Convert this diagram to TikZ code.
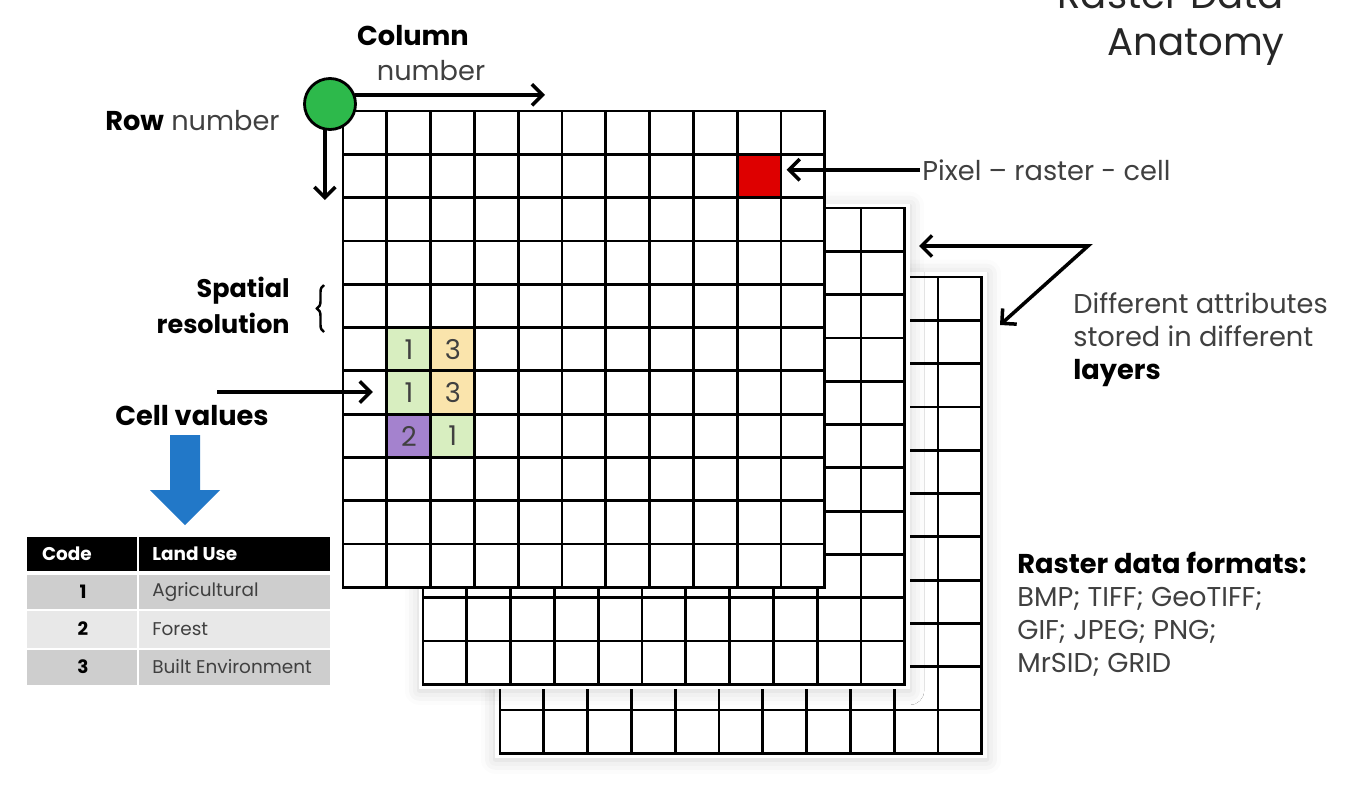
\documentclass[tikz,border=0pt]{standalone}
\usepackage{fontspec}
\setmainfont{Poppins}
\usetikzlibrary{calc, positioning, arrows.meta, shadows.blur, decorations.pathreplacing}
\definecolor{TextGrey}{RGB}{64,64,64}
\definecolor{TitleGrey}{RGB}{38,38,38}
\definecolor{PinGreen}{RGB}{45,185,75}
\definecolor{PixelRed}{RGB}{222,0,0}
\definecolor{AgriGreen}{RGB}{216,238,192}
\definecolor{BuiltSand}{RGB}{250,228,172}
\definecolor{ForestPurple}{RGB}{164,130,206}
\definecolor{ArrowBlue}{RGB}{34,120,200}
\definecolor{rowgrey}{RGB}{206,206,206}
\definecolor{lightgrey}{RGB}{232,232,232}

% 11 x 11 raster, top-left corner given in px
\newcommand{\rastergrid}[2]{%
  \foreach \k in {0,...,11} {
    \draw[gridline] ({#1+\k*43.8},#2) -- ({#1+\k*43.8},{#2+11*43.3});
    \draw[gridline] (#1,{#2+\k*43.3}) -- ({#1+11*43.8},{#2+\k*43.3});
  }%
}

\begin{document}
\begin{tikzpicture}[
  x=0.02cm, y=-0.02cm,
  font=\fontsize{15.5}{18.7}\selectfont,
  gridline/.style={line width=1.6pt, line cap=rect},
  arr/.style={line width=2pt, -{Straight Barb[length=6pt,width=12pt]}},
  txt/.style={text=TextGrey, inner sep=0pt},
  cellbox/.style={minimum width=0.876cm, minimum height=0.866cm, inner sep=0pt,
    anchor=north west, text=TextGrey},
  layerbox/.style={fill=white, blur shadow={shadow xshift=0pt, shadow yshift=-1pt,
    shadow blur radius=8pt, shadow opacity=18}},
  tabtxt/.style={inner sep=0pt, font=\fontsize{10.5}{12}\selectfont},
]
\clip (0,0) rectangle (1346,785);

% Title (top line cut by the frame)
\node[anchor=base east, inner sep=0pt, text=TitleGrey, font=\fontsize{22}{27}\selectfont] (title1) at (1284,8) {Raster Data};
\node[anchor=base east, inner sep=0pt, text=TitleGrey, font=\fontsize{22}{27}\selectfont] (title2) at (1285,55) {Anatomy};

% Back layer
\fill[layerbox] (495,272) rectangle (987,758);
\rastergrid{500}{277}

% Middle layer
\fill[layerbox] (419,204) rectangle (910,689);
\rastergrid{423}{208}

% Front layer
\fill[white] (343,111) rectangle (825,587);
\node[cellbox, fill=PixelRed] (pixel) at ({343+9*43.8},{111+1*43.3}) {};
\node[cellbox, fill=AgriGreen] (c51) at ({343+1*43.8},{111+5*43.3}) {1};
\node[cellbox, fill=BuiltSand] (c52) at ({343+2*43.8},{111+5*43.3}) {3};
\node[cellbox, fill=AgriGreen] (c61) at ({343+1*43.8},{111+6*43.3}) {1};
\node[cellbox, fill=BuiltSand] (c62) at ({343+2*43.8},{111+6*43.3}) {3};
\node[cellbox, fill=ForestPurple] (c71) at ({343+1*43.8},{111+7*43.3}) {2};
\node[cellbox, fill=AgriGreen] (c72) at ({343+2*43.8},{111+7*43.3}) {1};
\rastergrid{343}{111}

% Row / column origin
\node[circle, draw, line width=1.6pt, fill=PinGreen, minimum size=1.02cm, inner sep=0pt] (origin) at (330,104) {};
\coordinate (colend) at (545,95);
\coordinate (rowend) at (325,200);
\draw[arr] (origin.20) -- (origin.20 -| colend);
\draw[arr] (origin.259) -- (origin.259 |- rowend);
\node[anchor=base, inner sep=0pt] (coltitle) at (413,45) {\textbf{Column}};
\node[txt, anchor=base] (colnum) at (431,80) {number};
\node[anchor=base east, inner sep=0pt] (rowlabel) at (280,130) {\textbf{Row} \textcolor{TextGrey}{number}};

% Pixel
\node[txt, anchor=base west] (pixlabel) at (922,180) {Pixel -- raster - cell};
\coordinate (pixtip) at ($(pixel.east)+(5,0)$);
\draw[arr] ($(pixlabel.west)+(-2,0)$) -- (pixlabel.west -| pixtip);

% Layers
\coordinate (layerbend) at (1088,246);
\coordinate (midtip) at (919,246);
\coordinate (backtip) at (1000,325);
\draw[arr, {Straight Barb[length=6pt,width=12pt]}-{Straight Barb[length=6pt,width=12pt]}] (midtip) -- (layerbend) -- (backtip);
\node[txt, anchor=base west, align=left] (layerlabel) at (1073,379)
  {Different attributes\\stored in different\\\textcolor{black}{\textbf{layers}}};

% Spatial resolution
\node[anchor=base east, align=right, inner sep=0pt, font=\fontsize{14.5}{20.4}\selectfont\bfseries] (spatial) at (290,333) {Spatial\\resolution};
\draw[line width=1.4pt, decorate, decoration={brace, amplitude=4pt}] (324,332) -- (324,285);

% Cell values
\node[anchor=base, inner sep=0pt] (cellvalues) at (192,425) {\textbf{Cell values}};
\coordinate (cvstart) at (217,392);
\draw[arr] (cvstart) -- (cvstart -| {$(c61.west)+(-14,0)$});
\fill[ArrowBlue] (170,435) -- (200,435) -- (200,490) -- (220,490) -- (185,525)
  -- (150,490) -- (170,490) -- cycle;

% Legend table
\fill[black] (27,537) rectangle (330,571);
\fill[rowgrey] (27,575) rectangle (330,609);
\fill[lightgrey] (27,611) rectangle (330,648);
\fill[rowgrey] (27,650) rectangle (330,685);
\draw[white, line width=1.2pt] (138,537) -- (138,685);
\node[tabtxt, text=white, font=\fontsize{10.5}{12}\selectfont\bfseries] (thcode) at (67,554) {Code};
\node[tabtxt, text=white, font=\fontsize{10.5}{12}\selectfont\bfseries, anchor=west] (thuse) at (152,554) {Land Use};
\node[tabtxt, font=\fontsize{10.5}{12}\selectfont\bfseries] (code1) at (83,592) {1};
\node[tabtxt, text=TextGrey, anchor=west] (use1) at (152,592) {Agricultural};
\node[tabtxt, font=\fontsize{10.5}{12}\selectfont\bfseries] (code2) at (83,629) {2};
\node[tabtxt, text=TextGrey, anchor=west] (use2) at (152,629) {Forest};
\node[tabtxt, font=\fontsize{10.5}{12}\selectfont\bfseries] (code3) at (83,667) {3};
\node[tabtxt, text=TextGrey, anchor=west] (use3) at (152,667) {Built Environment};

% Formats
\node[txt, anchor=base west, align=left] (formats) at (1017,672)
  {\textcolor{black}{\textbf{Raster data formats:}}\\BMP; TIFF; GeoTIFF;\\GIF; JPEG; PNG;\\MrSID; GRID};
\end{tikzpicture}
\end{document}
